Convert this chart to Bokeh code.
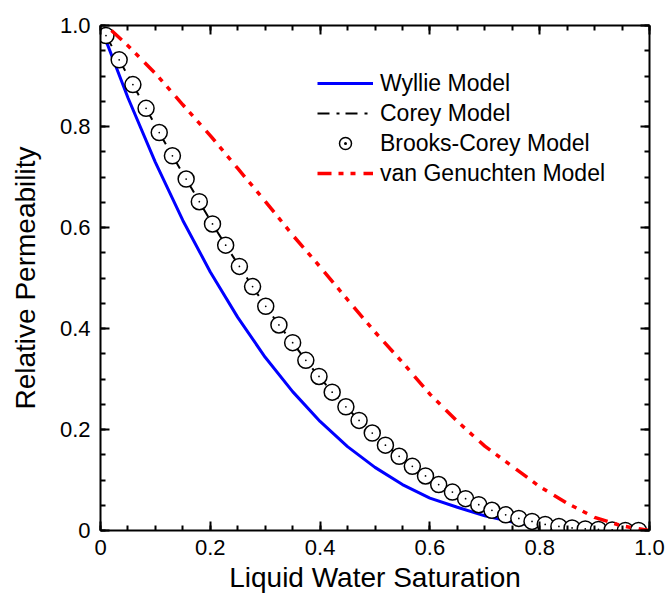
from bokeh.plotting import figure
from bokeh.models import (Range1d, SingleIntervalTicker, LinearAxis, CustomJSTickFormatter,
                          Legend, LegendItem)
from bokeh.embed import file_html
from bokeh.resources import INLINE

# ---- data ----
sat_wyllie = [0.01, 0.05, 0.10, 0.15, 0.20, 0.25, 0.30, 0.35, 0.40, 0.45, 0.50,
              0.55, 0.60, 0.65, 0.70, 0.75, 0.80, 0.85, 0.90, 0.95, 1.00]
kr_wyllie = [0.970, 0.857, 0.729, 0.614, 0.512, 0.422, 0.343, 0.275, 0.216, 0.166, 0.125,
             0.091, 0.064, 0.046, 0.029, 0.017, 0.008, 0.003, 0.001, 0.000, 0.000]

sat_corey = [0.010, 0.034, 0.059, 0.083, 0.107, 0.131, 0.156, 0.180, 0.204, 0.228, 0.253,
             0.277, 0.301, 0.325, 0.350, 0.374, 0.398, 0.422, 0.447, 0.471, 0.495, 0.519,
             0.544, 0.568, 0.592, 0.616, 0.641, 0.665, 0.689, 0.713, 0.738, 0.762, 0.786,
             0.810, 0.835, 0.859, 0.883, 0.907, 0.932, 0.956, 0.980]
kr_corey = [0.980, 0.932, 0.883, 0.836, 0.788, 0.742, 0.696, 0.651, 0.607, 0.565, 0.523,
            0.483, 0.444, 0.407, 0.372, 0.337, 0.305, 0.274, 0.245, 0.218, 0.193, 0.169,
            0.147, 0.127, 0.108, 0.091, 0.076, 0.063, 0.051, 0.040, 0.031, 0.024, 0.018,
            0.012, 0.008, 0.005, 0.003, 0.002, 0.001, 0.000, 0.000]

sat_vg = [0.02, 0.05, 0.10, 0.15, 0.20, 0.25, 0.30, 0.35, 0.40, 0.45, 0.50,
          0.55, 0.60, 0.65, 0.70, 0.75, 0.80, 0.85, 0.90, 0.95, 1.00]
kr_vg = [0.990, 0.960, 0.905, 0.843, 0.782, 0.717, 0.652, 0.585, 0.522, 0.457, 0.393,
         0.333, 0.270, 0.216, 0.167, 0.127, 0.087, 0.054, 0.026, 0.009, 0.000]

series_names = ["Wyllie Model", "Corey Model", "Brooks-Corey Model", "van Genuchten Model"]
x_title = "Liquid Water Saturation"
y_title = "Relative Permeability"

FONT = "Liberation Sans"

p = figure(width=665, height=600, output_backend="svg", toolbar_location=None,
           x_range=Range1d(0, 1), y_range=Range1d(0, 1),
           x_axis_location=None, y_axis_location=None,
           min_border_left=100, min_border_right=16, min_border_top=25, min_border_bottom=70)
p.grid.visible = False
p.outline_line_color = None
p.background_fill_color = "white"
p.border_fill_color = "white"

fmt = CustomJSTickFormatter(code="return tick == 0 ? '0' : tick.toFixed(1);")
blank = CustomJSTickFormatter(code="return '';")


def style_axis(ax, labels):
    ax.ticker = SingleIntervalTicker(interval=0.2, num_minor_ticks=4)
    ax.axis_line_width = 2
    ax.axis_line_color = "black"
    ax.major_tick_in = 9
    ax.major_tick_out = 0
    ax.minor_tick_in = 5
    ax.minor_tick_out = 0
    ax.major_tick_line_width = 2
    ax.minor_tick_line_width = 2
    ax.major_tick_line_color = "black"
    ax.minor_tick_line_color = "black"
    if labels:
        ax.formatter = fmt
        ax.major_label_text_font = FONT
        ax.major_label_text_font_size = "22px"
        ax.major_label_text_color = "black"
        ax.axis_label_text_font = FONT
        ax.axis_label_text_font_size = "28px"
        ax.axis_label_text_font_style = "normal"
        ax.axis_label_text_color = "black"
    else:
        ax.formatter = blank
        ax.major_label_text_font_size = "0px"
        ax.major_label_standoff = 0


xb = LinearAxis(axis_label=x_title)
style_axis(xb, True)
xb.major_label_standoff = 9
xb.axis_label_standoff = 4
yl = LinearAxis(axis_label=y_title)
style_axis(yl, True)
yl.major_label_standoff = 10
yl.axis_label_standoff = 16
xt = LinearAxis()
style_axis(xt, False)
yr = LinearAxis()
style_axis(yr, False)
p.add_layout(xb, "below")
p.add_layout(yl, "left")
p.add_layout(xt, "above")
p.add_layout(yr, "right")

r_wy = p.line(sat_wyllie, kr_wyllie, line_color="#0000FF", line_width=3)
r_co = p.line(sat_corey, kr_corey, line_color="black", line_width=2, line_dash="12 7 3 6")
r_bc = p.scatter(sat_corey, kr_corey, marker="circle", size=16, fill_color="white",
                 line_color="black", line_width=1.5)
r_bd = p.scatter(sat_corey, kr_corey, marker="dot", size=7, line_color="black",
                 fill_color="black")
r_vg = p.line(sat_vg, kr_vg, line_color="#FF0000", line_width=3.5, line_dash="14 7 5 7 5 8")

legend = Legend(items=[LegendItem(label=series_names[0], renderers=[r_wy]),
                       LegendItem(label=series_names[1], renderers=[r_co]),
                       LegendItem(label=series_names[2], renderers=[r_bc, r_bd]),
                       LegendItem(label=series_names[3], renderers=[r_vg])],
                location=(217, 342))
legend.background_fill_alpha = 0
legend.border_line_color = None
legend.padding = 0
legend.margin = 0
legend.spacing = 0
legend.glyph_width = 56
legend.glyph_height = 30
legend.label_height = 30
legend.label_standoff = 7
legend.label_text_font = FONT
legend.label_text_font_size = "23px"
legend.label_text_color = "black"
p.add_layout(legend, "center")

open("out.html", "w").write(file_html(p, INLINE))
